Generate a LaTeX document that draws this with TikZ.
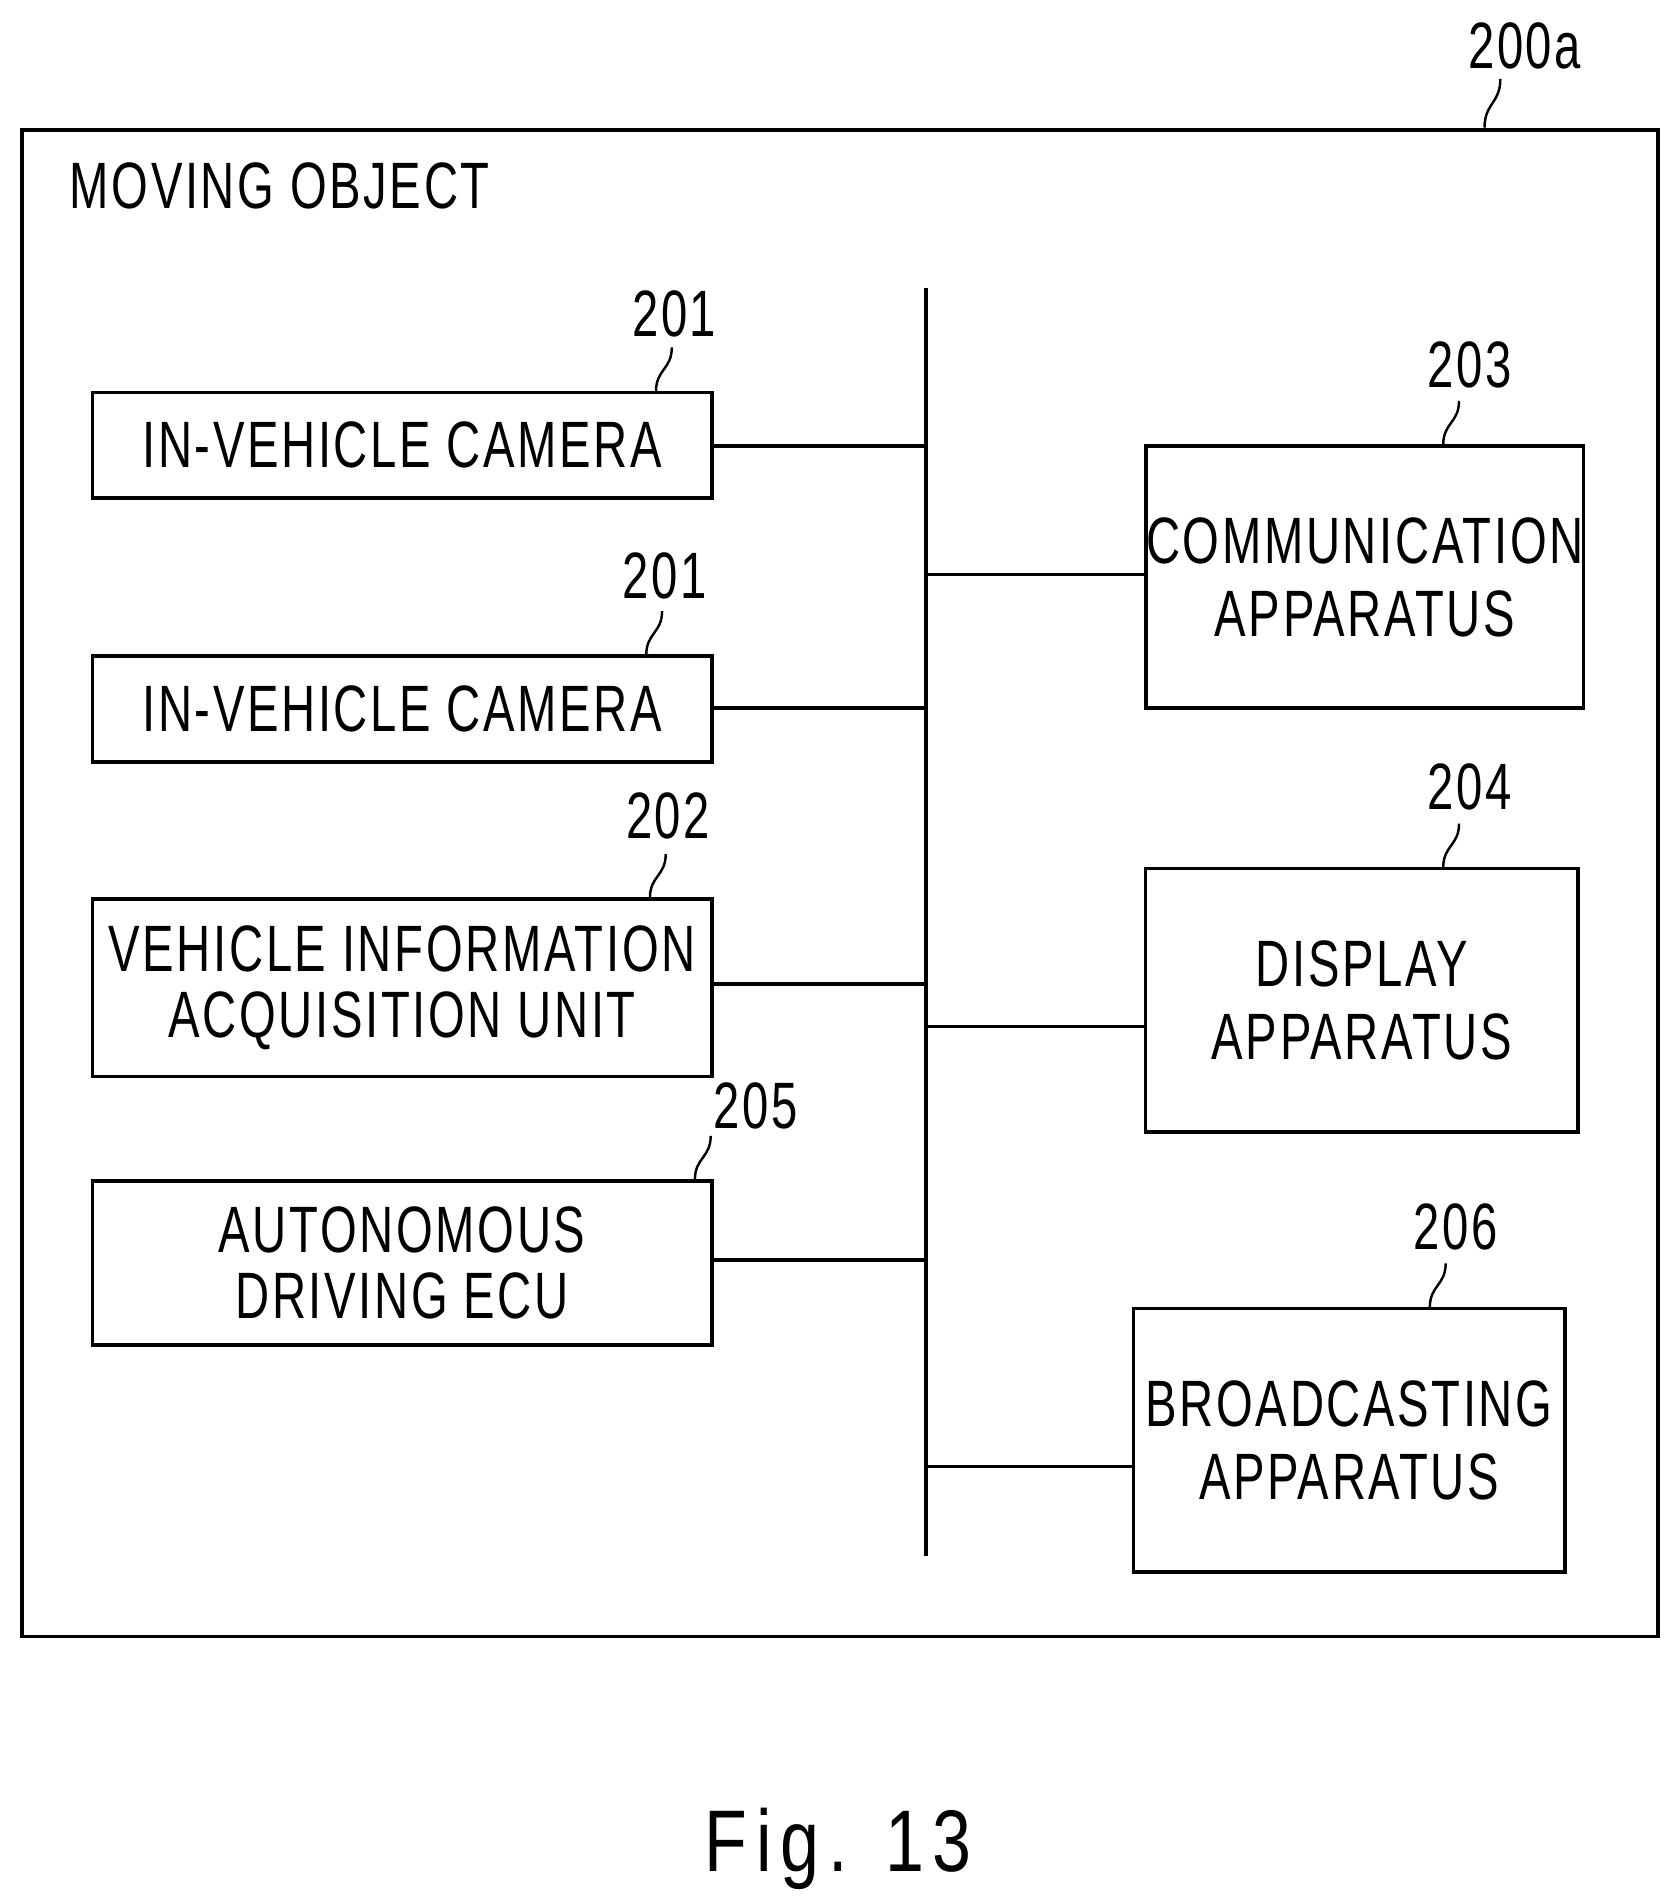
\documentclass[tikz,border=0pt]{standalone}
\usepackage{fontspec}
\setmainfont{Liberation Sans}[FakeStretch=0.72,LetterSpace=4]
\newfontfamily\figfont{Liberation Sans}[FakeStretch=0.8,LetterSpace=10]
\begin{document}
\begin{tikzpicture}[x=0.5pt,y=-0.5pt,
  box/.style={draw,line width=1.5pt,inner sep=0pt,align=center,font=\fontsize{27}{30}\selectfont},
  lbl/.style={font=\fontsize{27}{30}\selectfont,inner sep=0pt},
  ln/.style={line width=1.5pt},
  sq/.style={line width=1pt}]
\useasboundingbox (0,0) rectangle (1380,1564);
\draw[ln] (18,107) rectangle (1365,1347);
\node[lbl,anchor=west] (title) at (57,153) {MOVING OBJECT};
\node[lbl] (l200) at (1255,38) {200a};
\coordinate (t200) at (1222,105);
\draw[sq] (t200) .. controls (1222,85) and (1235,85) .. (1235,65);
\coordinate (bt) at (762,237); \coordinate (bb) at (762,1281);
\draw[ln] (bt) -- (bb);
\node[box,minimum width=255pt,minimum height=43.5pt] (c1) at (331,366.5) {IN-VEHICLE CAMERA};
\node[box,minimum width=255pt,minimum height=43.5pt] (c2) at (331,583.5) {IN-VEHICLE CAMERA};
\node[box,minimum width=255pt,minimum height=73pt] (v) at (331,813) {VEHICLE INFORMATION\\[-3pt]ACQUISITION UNIT};
\node[box,minimum width=255pt,minimum height=67.5pt] (a) at (331,1039.5) {AUTONOMOUS\\[-3pt]DRIVING ECU};
\node[box,minimum width=175.5pt,minimum height=108pt] (cm) at (1123.5,475) {COMMUNICATION\\APPARATUS};
\node[box,minimum width=178pt,minimum height=108.5pt] (d) at (1121,823.5) {DISPLAY\\APPARATUS};
\node[box,minimum width=177.5pt,minimum height=108.5pt] (b) at (1110.5,1185.5) {BROADCASTING\\APPARATUS};
\foreach \n/\y in {c1/367,c2/583,v/810,a/1037}{
  \coordinate (j\n) at (762,\y);
  \draw[ln] (\n.east |- j\n) -- (j\n);}
\foreach \n/\y in {cm/473,d/845,b/1207}{
  \coordinate (j\n) at (762,\y);
  \draw[ln] (j\n) -- (\n.west |- j\n);}
\foreach \name/\lx/\ly/\tx/\ty in {n1/555/258/540/322, n2/547/474/532/539, n3/550/672/535/739, n5/622/910/572/971, n3r/1210/300/1188/366, n4/1210/648/1188/714, n6/1198/1010/1177/1076}{
  \node[lbl] (\name) at (\lx,\ly) {};
  \coordinate (t\name) at (\tx,\ty);
  \draw[sq] (t\name) .. controls (\tx,\ty-18) and (\tx+13,\ty-18) .. (\tx+13,\ty-36);}
\node[lbl] at (n1) {201};
\node[lbl] at (n2) {201};
\node[lbl] at (n3) {202};
\node[lbl] at (n5) {205};
\node[lbl] at (n3r) {203};
\node[lbl] at (n4) {204};
\node[lbl] at (n6) {206};
\node[font=\figfont\fontsize{36}{40}\selectfont,inner sep=0pt] (fig) at (690,1522) {Fig. 13};
\end{tikzpicture}
\end{document}
